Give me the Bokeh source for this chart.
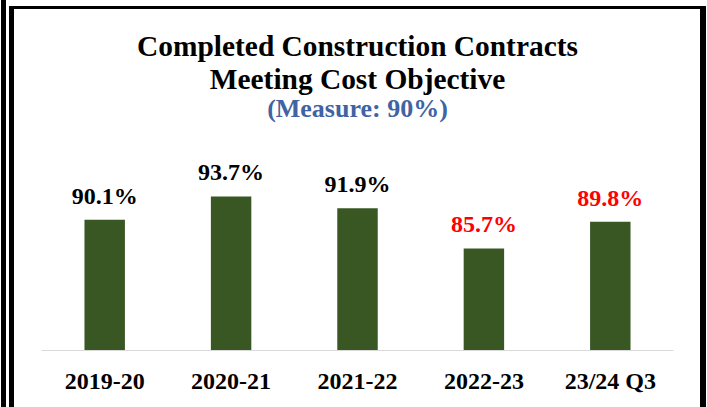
from bokeh.plotting import figure
from bokeh.models import ColumnDataSource, FactorRange
from bokeh.core.properties import value
from bokeh.embed import file_html
from bokeh.resources import INLINE

categories = ["2019-20", "2020-21", "2021-22", "2022-23", "23/24 Q3"]
values = [90.1, 93.7, 91.9, 85.7, 89.8]
label_texts = ["90.1%", "93.7%", "91.9%", "85.7%", "89.8%"]
label_colors = ["black", "black", "black", "#FF0000", "#FF0000"]
title_line1 = "Completed Construction Contracts"
title_line2 = "Meeting Cost Objective"
subtitle = "(Measure: 90%)"
y_min = 70

FONT = "Liberation Serif"
BAR_COLOR = "#385723"

# layout (pixels)
CANVAS_W, CANVAS_H = 686, 398
BORDER_L, BORDER_R, BORDER_B = 27, 27, 57
FRAME_H = CANVAS_H - BORDER_B
PX_PER_UNIT = 6.5
y_max = y_min + FRAME_H / PX_PER_UNIT


def y_at(px_from_top):
    """data y for a pixel row measured from the top of the frame"""
    return y_min + (FRAME_H - px_from_top) / PX_PER_UNIT


source = ColumnDataSource(data=dict(
    cat=categories, val=values, lab=label_texts, col=label_colors,
))

frame_shadows = ", ".join([
    "-2px 0 0 3px black",      # inner left line + top line
    "3px 0 0 3px black",       # right line + top line
    "-3px -4px 0 5px white",   # gap between the two left lines
    "-8px -4px 0 5px black",   # outer left line
])

p = figure(
    title=None,
    x_range=FactorRange(factors=categories, range_padding=0),
    y_range=(y_min, y_max),
    width=CANVAS_W, height=CANVAS_H,
    output_backend="svg", toolbar_location=None,
    y_axis_location=None,
    min_border_left=BORDER_L, min_border_right=BORDER_R,
    min_border_top=0, min_border_bottom=BORDER_B,
    styles={
        "margin-left": "14px",
        "margin-top": "9px",
        "box-shadow": frame_shadows,
    },
)
p.outline_line_color = None
p.xgrid.grid_line_color = None
p.ygrid.grid_line_color = None
p.background_fill_color = "white"
p.border_fill_color = "white"

p.vbar(x="cat", top="val", bottom=y_min, width=0.32, source=source,
       fill_color=BAR_COLOR, line_color=None)

p.text(x="cat", y="val", text="lab", text_color="col", source=source,
       text_font=value(FONT), text_font_style="bold", text_font_size="24px",
       text_align="center", text_baseline="alphabetic", y_offset=-24)

center_cat = categories[len(categories) // 2]
title_src = ColumnDataSource(data=dict(
    x=[center_cat, center_cat, center_cat],
    y=[y_at(36), y_at(69), y_at(99)],
    t=[title_line1, title_line2, subtitle],
    c=["black", "black", "#3F63A3"],
    s=["29.4px", "29.4px", "26px"],
))
p.text(x="x", y="y", text="t", text_color="c", text_font_size="s",
       source=title_src, text_font=value(FONT), text_font_style="bold",
       text_align="center", text_baseline="alphabetic")

ax = p.xaxis[0]
ax.axis_line_color = "#D9D9D9"
ax.axis_line_width = 1
ax.major_tick_line_color = None
ax.minor_tick_line_color = None
ax.major_tick_in = 0
ax.major_tick_out = 0
ax.major_label_standoff = 17
ax.major_label_text_font = FONT
ax.major_label_text_font_style = "bold"
ax.major_label_text_font_size = "24px"
ax.major_label_text_color = "black"

open("out.html", "w").write(file_html(p, INLINE))
